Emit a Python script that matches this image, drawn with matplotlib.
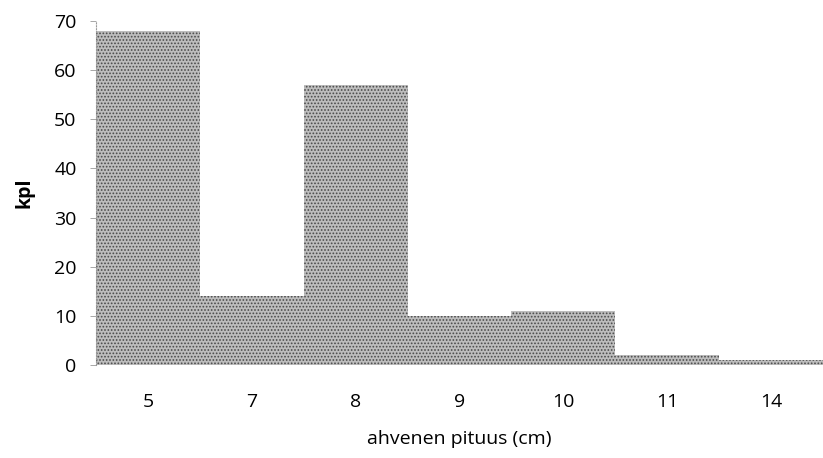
import matplotlib.pyplot as plt
import numpy as np

# data
pituus = ['5', '7', '8', '9', '10', '11', '14']
kpl = [68, 14, 57, 10, 11, 2, 1]

plt.rcParams['font.family'] = ['Open Sans', 'DejaVu Sans']
plt.rcParams['hatch.linewidth'] = 0.8

fig = plt.figure(figsize=(8.23, 4.58), dpi=100)
ax = fig.add_axes([0.1166, 0.203, 0.8834, 0.751])

x = np.arange(len(pituus))
ax.bar(x, kpl, width=1.0, color='#bdbdbd', edgecolor='#4a4a4a',
       linewidth=0, hatch='.....')

ax.set_xlim(-0.5, len(pituus) - 0.5)
ax.set_ylim(0, 70)
ax.set_yticks(range(0, 71, 10))
ax.set_xticks(x)
ax.set_xticklabels(pituus)

for s in ['top', 'right', 'bottom']:
    ax.spines[s].set_visible(False)
ax.spines['left'].set_color('#999999')
ax.spines['left'].set_linestyle(':')
ax.spines['left'].set_linewidth(0.8)

ax.tick_params(axis='y', length=4, width=0.6, color='#999999', labelsize=14, pad=10)
ax.tick_params(axis='x', length=0, labelsize=14, pad=20)

ax.set_ylabel('kpl', fontweight='bold', fontsize=14, labelpad=14)
ax.set_xlabel('ahvenen pituus (cm)', fontsize=14, labelpad=14)

fig.savefig('out.png', dpi=100)
